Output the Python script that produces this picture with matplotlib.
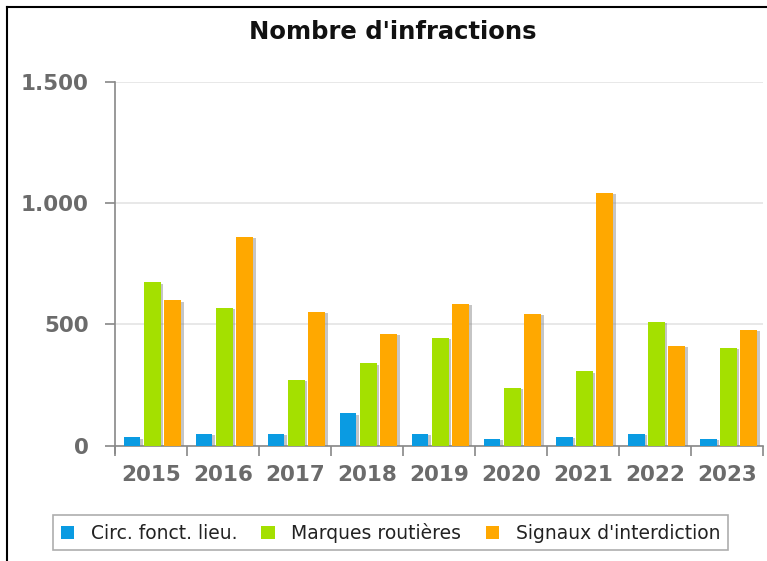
import numpy as np
import matplotlib.pyplot as plt
import matplotlib.patheffects as pe
from matplotlib.patches import Patch
from matplotlib.lines import Line2D
from matplotlib.ticker import FuncFormatter

# ── données ────────────────────────────────────────────────────────────────
annees = ['2015', '2016', '2017', '2018', '2019', '2020', '2021', '2022', '2023']
circ = [35, 50, 50, 133, 50, 29, 37, 50, 29]
marques = [673, 568, 273, 339, 445, 240, 306, 511, 404]
signaux = [600, 862, 552, 461, 584, 544, 1042, 412, 478]

series = ['Circ. fonct. lieu.', 'Marques routières', "Signaux d'interdiction"]
couleurs = ['#0a9be2', '#a4e000', '#ffa800']

# ── figure ─────────────────────────────────────────────────────────────────
fig = plt.figure(figsize=(7.67, 5.61), dpi=100)
ax = fig.add_axes([0.150, 0.2055, 0.845, 0.6485])

x = np.arange(len(annees))
w = 0.235
step = 0.28
ombre = [pe.SimplePatchShadow(offset=(2, -1), shadow_rgbFace='#808080', alpha=0.45), pe.Normal()]
for i, (vals, c) in enumerate(zip([circ, marques, signaux], couleurs)):
    bars = ax.bar(x + (i - 1) * step + 0.015, vals, width=w, color=c, zorder=3)
    for b in bars:
        b.set_path_effects(ombre)

ax.set_xlim(-0.5, len(annees) - 0.5)
ax.set_ylim(0, 1500)

ax.set_yticks([0, 500, 1000, 1500])
ax.yaxis.set_major_formatter(FuncFormatter(lambda v, p: f'{int(v):,}'.replace(',', '.')))
ax.grid(axis='y', color='#e4e4e4', lw=1.2, zorder=0)
ax.set_axisbelow(True)

ax.set_xticks(x)
ax.set_xticklabels(annees)
ax.set_xticks(np.arange(len(annees) + 1) - 0.5, minor=True)
ax.tick_params(axis='x', which='major', length=0, pad=14)
ax.tick_params(axis='x', which='minor', length=7, width=1.2, color='#888888', direction='out')
ax.tick_params(axis='y', length=7, width=1.2, color='#888888', pad=12)
for lab in ax.get_xticklabels() + ax.get_yticklabels():
    lab.set_fontsize(15.5)
    lab.set_fontweight('bold')
    lab.set_color('#6b6b6b')

for s in ['top', 'right']:
    ax.spines[s].set_visible(False)
for s in ['left', 'bottom']:
    ax.spines[s].set_color('#888888')
    ax.spines[s].set_linewidth(1.2)
ax.plot([-0.5, -0.5], [0, -30], color='#888888', lw=1.2, clip_on=False)

fig.text(0.512, 0.943, "Nombre d'infractions", ha='center', va='center',
         fontsize=17.5, fontweight='bold', color='#111111')

# cadre
fig.add_artist(Line2D([0.009, 0.009], [0.0, 0.988], color='black', lw=1.5))
fig.add_artist(Line2D([0.009, 1.0], [0.988, 0.988], color='black', lw=1.5))

handles = [Patch(facecolor=c, edgecolor='none') for c in couleurs]
leg = fig.legend(handles, series, loc='center', bbox_to_anchor=(0.509, 0.05),
                 ncol=3, frameon=True, fancybox=False, fontsize=13.5,
                 handlelength=0.7, handleheight=0.7, handletextpad=0.9,
                 columnspacing=1.3, borderpad=0.4)
leg.get_frame().set_edgecolor('#999999')
leg.get_frame().set_linewidth(1.2)
for t in leg.get_texts():
    t.set_color('#222222')

fig.savefig('out.png', dpi=100)
